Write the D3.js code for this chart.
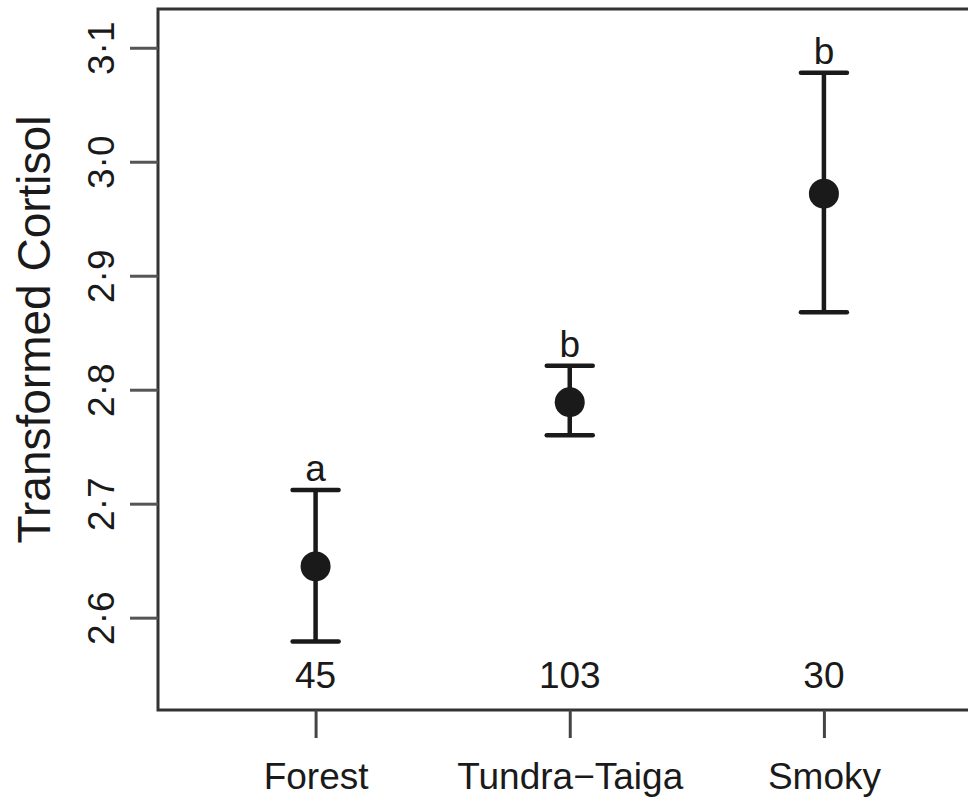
<!DOCTYPE html>
<html>
<head>
<meta charset="utf-8">
<script src="https://cdn.jsdelivr.net/npm/d3@7"></script>
<style>
  html, body { margin: 0; padding: 0; background: #fff; }
  svg { display: block; }
  text { font-family: "Liberation Sans", Arial, Helvetica, sans-serif; fill: #1a1a1a; }
</style>
</head>
<body>
<svg id="chart" width="968" height="798"></svg>
<script>
const categories = ["Forest", "Tundra\u2212Taiga", "Smoky"];
const means = [2.645, 2.789, 2.972];
const lower = [2.579, 2.760, 2.868];
const upper = [2.712, 2.821, 3.078];
const groupLetters = ["a", "b", "b"];
const sampleSizes = ["45", "103", "30"];
const yTicks = [2.6, 2.7, 2.8, 2.9, 3.0, 3.1];
const yTickLabels = ["2\u00b76", "2\u00b77", "2\u00b78", "2\u00b79", "3\u00b70", "3\u00b71"];
const yLabel = "Transformed Cortisol";

const svg = d3.select("#chart");
const x = d3.scaleLinear().domain([0.38, 3.62]).range([158, 981.5]);
const y = d3.scaleLinear().domain([2.519, 3.134]).range([710, 9]);
const xPos = i => x(i + 1);

// plot box
svg.append("rect")
  .attr("x", x(0.38)).attr("y", y(3.134))
  .attr("width", x(3.62) - x(0.38)).attr("height", y(2.519) - y(3.134))
  .attr("fill", "none").attr("stroke", "#333").attr("stroke-width", 3);

// y axis
const yAxis = d3.axisLeft(y).tickValues(yTicks).tickSize(28).tickFormat("");
const yg = svg.append("g").attr("transform", `translate(${x(0.38)},0)`).call(yAxis);
yg.select(".domain").remove();
yg.selectAll(".tick line").attr("stroke", "#555").attr("stroke-width", 3);
yg.selectAll(".tick").append("text")
  .attr("transform", "translate(-44,0) rotate(-90)")
  .attr("text-anchor", "middle")
  .attr("font-size", 37)
  .attr("fill", "#1a1a1a")
  .text((d, i) => yTickLabels[i]);

// x axis
const xAxis = d3.axisBottom(x).tickValues([1, 2, 3]).tickSize(28).tickFormat("");
const xg = svg.append("g").attr("transform", `translate(0,${y(2.519)})`).call(xAxis);
xg.select(".domain").remove();
xg.selectAll(".tick line").attr("stroke", "#444").attr("stroke-width", 3);
xg.selectAll(".tick").append("text")
  .attr("y", 79)
  .attr("text-anchor", "middle")
  .attr("font-size", 37)
  .attr("fill", "#1a1a1a")
  .text((d, i) => categories[i]);

// y label
svg.append("text")
  .attr("transform", `translate(50,${(y(3.134) + y(2.519)) / 2 - 30}) rotate(-90)`)
  .attr("text-anchor", "middle")
  .attr("font-size", 46)
  .text(yLabel);

const g = svg.append("g");
const capHalf = 23;
categories.forEach((c, i) => {
  const cx = xPos(i);
  g.append("line").attr("x1", cx).attr("x2", cx).attr("y1", y(lower[i])).attr("y2", y(upper[i]))
    .attr("stroke", "#1a1a1a").attr("stroke-width", 4.5);
  [lower[i], upper[i]].forEach(v => {
    g.append("line").attr("x1", cx - capHalf).attr("x2", cx + capHalf).attr("y1", y(v)).attr("y2", y(v))
      .attr("stroke", "#1a1a1a").attr("stroke-width", 4.5).attr("stroke-linecap", "round");
  });
  g.append("circle").attr("cx", cx).attr("cy", y(means[i])).attr("r", 15).attr("fill", "#1a1a1a");
  g.append("text").attr("x", cx).attr("y", y(upper[i]) - 9)
    .attr("text-anchor", "middle").attr("font-size", 37).text(groupLetters[i]);
  g.append("text").attr("x", cx).attr("y", y(2.55) + 13)
    .attr("text-anchor", "middle").attr("font-size", 37).text(sampleSizes[i]);
});
</script>
</body>
</html>
